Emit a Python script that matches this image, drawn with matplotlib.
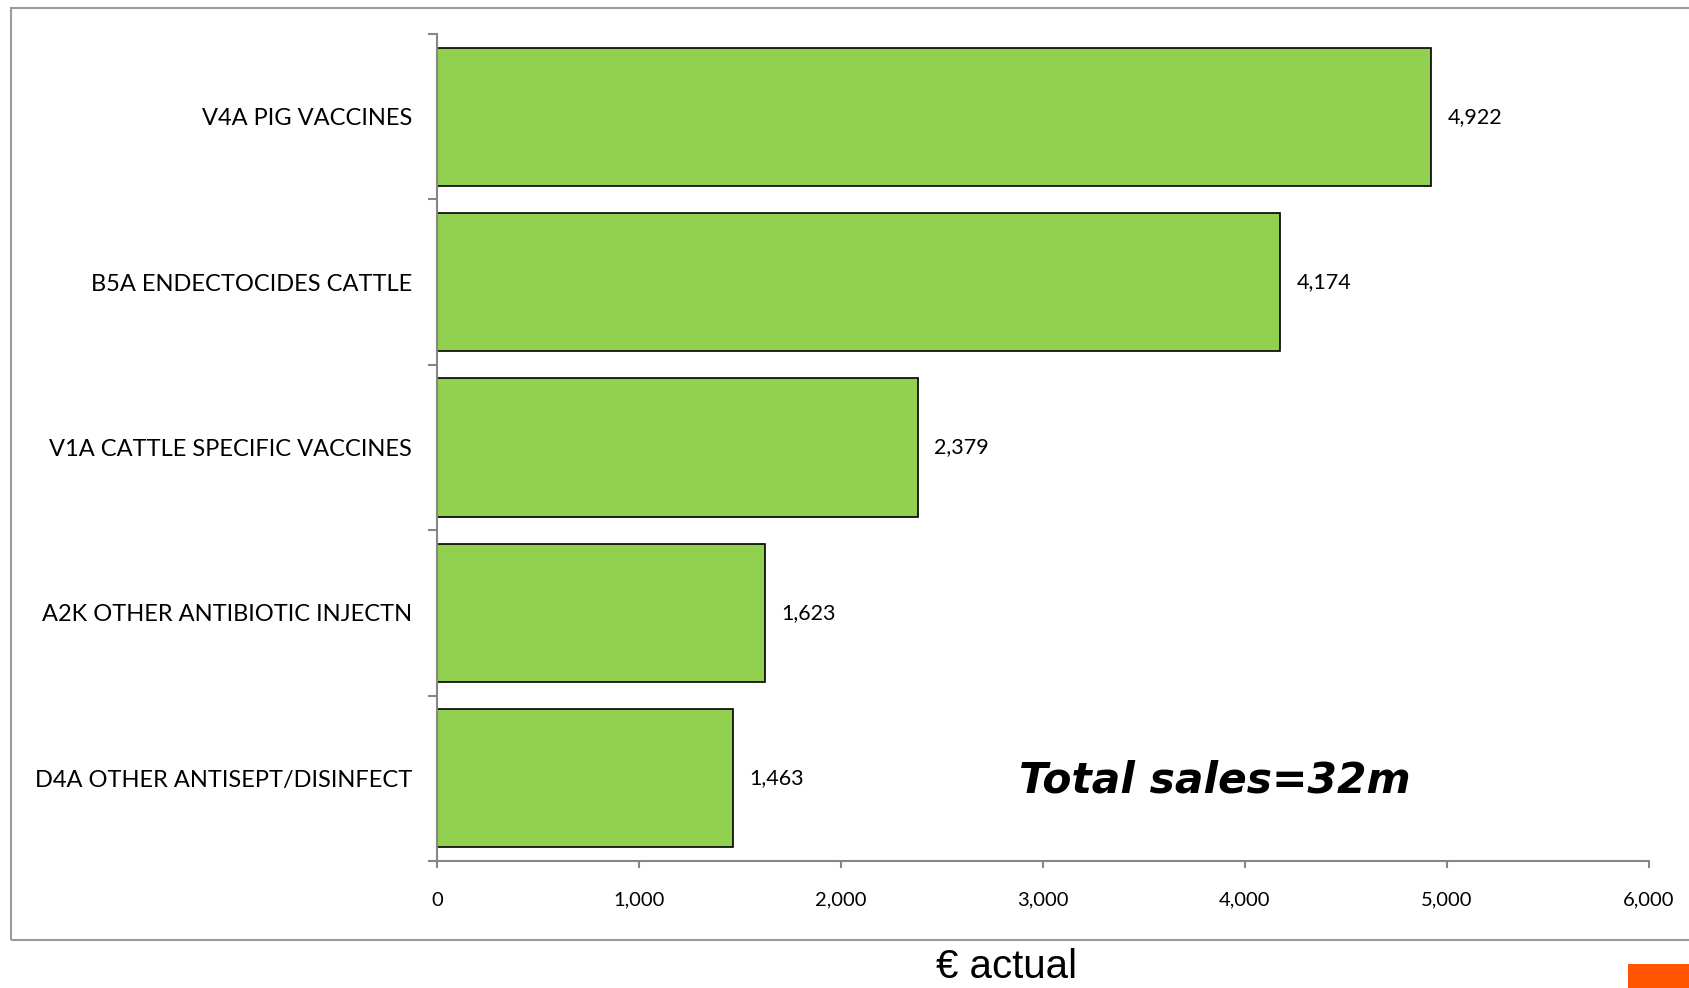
import matplotlib.pyplot as plt
from matplotlib.patches import Rectangle
from matplotlib.ticker import FuncFormatter

# Top product groups, sales in EUR thousands
categories = ['V4A PIG VACCINES', 'B5A ENDECTOCIDES CATTLE', 'V1A CATTLE SPECIFIC VACCINES',
              'A2K OTHER ANTIBIOTIC INJECTN', 'D4A OTHER ANTISEPT/DISINFECT']
sales = [4922, 4174, 2379, 1623, 1463]
x_ticks = [0, 1000, 2000, 3000, 4000, 5000, 6000]

W, H = 1690, 988
fig = plt.figure(figsize=(W / 100, H / 100), dpi=100)
fig.patch.set_facecolor('white')

label_font = 'Lato'
axis_grey = '#868686'

# outer chart frame (right edge runs off the page)
fig.patches.append(Rectangle((11 / W, 1 - 940 / H), 2.0, (940 - 8) / H,
                             transform=fig.transFigure, fill=False,
                             edgecolor='#9a9a9a', lw=1.5))

ax = fig.add_axes([437 / W, 1 - 861 / H, (1649 - 437) / W, (861 - 34) / H])
ypos = list(range(len(categories)))
bars = ax.barh(ypos, sales, height=0.835, color='#92D050', edgecolor='black', lw=1.2)

ax.set_xlim(0, 6000)
ax.set_ylim(len(categories) - 0.5, -0.5)

for s in ['top', 'right']:
    ax.spines[s].set_visible(False)
for s in ['left', 'bottom']:
    ax.spines[s].set_color(axis_grey)
    ax.spines[s].set_linewidth(1.5)

ax.set_xticks(x_ticks)
ax.xaxis.set_major_formatter(FuncFormatter(lambda v, p: f'{int(v):,}'))
ax.tick_params(axis='x', direction='out', length=5, width=1.5, color=axis_grey,
               pad=17, labelsize=14.5)
for t in ax.get_xticklabels():
    t.set_fontfamily(label_font)

# category names on the bar centres, tick marks on the boundaries
ax.set_yticks(ypos)
ax.set_yticklabels(categories, fontfamily=label_font, fontsize=17)
ax.tick_params(axis='y', which='major', length=0, pad=18)
ax.set_yticks([i - 0.5 for i in range(len(categories) + 1)], minor=True)
ax.tick_params(axis='y', which='minor', direction='out', length=6.5, width=1.5, color=axis_grey)

for b, v in zip(bars, sales):
    ax.annotate(f'{v:,}', (v, b.get_y() + b.get_height() / 2), xytext=(12, 0),
                textcoords='offset points', va='center', ha='left',
                fontfamily=label_font, fontsize=15.5)

fig.text(1019 / W, 1 - 780 / H, 'Total sales=32m', ha='left', va='center',
         fontfamily='DejaVu Sans', fontweight='bold', fontstyle='italic', fontsize=30.5)

fig.text(1007 / W, 1 - 978 / H, '€ actual', ha='center', va='baseline',
         fontfamily='Liberation Sans', fontsize=29)

fig.patches.append(Rectangle((1628 / W, 0), (W - 1628) / W, 24 / H,
                             transform=fig.transFigure, color='#FF5500', lw=0))

fig.savefig('out.png', dpi=100)
